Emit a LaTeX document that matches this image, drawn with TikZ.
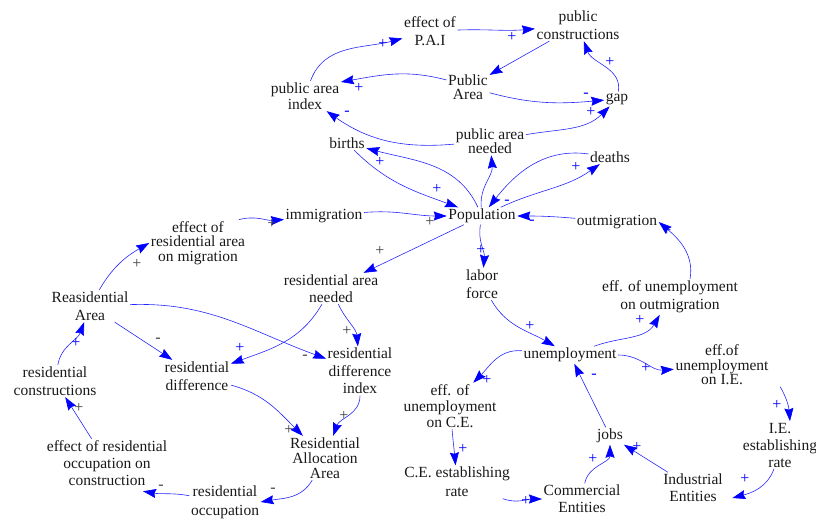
\documentclass[tikz,border=0pt]{standalone}
\usepackage{fontspec}
\setmainfont{Liberation Serif}
\usetikzlibrary{arrows.meta}
\begin{document}
\begin{tikzpicture}[x=1pt,y=1pt,
  vbl/.style={font=\fontsize{15.5}{17}\selectfont, align=center, inner sep=1.5pt, text=black!90},
  ls/.style={font=\fontsize{15.5}{#1}\selectfont},
  link/.style={draw=blue!85!white, line width=0.6pt, -{Stealth[length=13pt,width=9pt,inset=1.5pt,color=blue]}},
  sgnb/.style={font=\fontsize{16}{16}\selectfont, inner sep=0pt, text=blue},
  sgnk/.style={sgnb, text=black!75},
]
\useasboundingbox (0,0) rectangle (816,-521);

% ---- variables ----
\node[vbl, ls=18] (pai) at (430,-31) {effect of\\P.A.I};
\node[vbl, ls=18] (pc) at (578,-25) {public\\constructions};
\node[vbl, ls=14.5] (PA) at (468,-87) {Public\\Area};
\node[vbl, ls=16] (paidx) at (305,-96) {public area\\index};
\node[vbl] (gap) at (617,-99) {gap};
\node[vbl, ls=14.5] (pan) at (490,-141) {public area\\needed};
\node[vbl] (births) at (347,-143) {births};
\node[vbl] (deaths) at (610,-157) {deaths};
\node[vbl] (pop) at (482,-216) {Population};
\node[vbl] (immig) at (324,-216) {immigration};
\node[vbl] (outmig) at (617,-222) {outmigration};
\node[vbl, ls=14.5] (eram) at (198,-243) {effect of\\residential area\\on migration};
\node[vbl, ls=17] (ran) at (331,-288.5) {residential area\\needed};
\node[vbl, ls=18] (labor) at (482,-284) {labor\\force};
\node[vbl, ls=18] (RA) at (90,-306) {Reasidential\\Area};
\node[vbl, ls=18] (euo) at (670,-297) {eff. of unemployment\\on outmigration};
\node[vbl, ls=18] (rd) at (197,-376) {residential\\difference};
\node[vbl, ls=17.5] (rdi) at (360,-371) {residential\\difference\\index};
\node[vbl, ls=18] (rc) at (55,-381) {residential\\constructions};
\node[vbl] (unemp) at (570,-355) {unemployment};
\node[vbl, ls=14.5] (euie) at (722,-365) {eff.of\\unemployment\\on I.E.};
\node[vbl, ls=16] (euce) at (450,-406) {eff. of\\unemployment\\on C.E.};
\node[vbl] (jobs) at (610,-436) {jobs};
\node[vbl, ls=17] (iesr) at (780,-445) {I.E.\\establishing\\rate};
\node[vbl, ls=17] (eroc) at (107,-463) {effect of residential\\occupation on\\construction};
\node[vbl, ls=19] (cesr) at (457,-482) {C.E. establishing\\rate};
\node[vbl, ls=15] (RAA) at (325,-458) {Residential\\Allocation\\Area};
\node[vbl, ls=19] (ro) at (225,-502) {residential\\occupation};
\node[vbl, ls=17] (CE) at (582,-499) {Commercial\\Entities};
\node[vbl, ls=17] (IE) at (693,-488) {Industrial\\Entities};

% ---- causal links ----
\draw[link] (paidx) to[out=70,in=195] (pai);
\draw[link] (pai) to[out=2,in=185] (pc);
\draw[link] (pc) -- (PA);
\draw[link] ([yshift=7pt]PA.west) to[out=165,in=10] ([yshift=14pt]paidx.east);
\draw[link] (PA) to[out=-15,in=185] (gap);
\draw[link] (gap) to[out=80,in=-70] (pc);
\draw[link] (pan) to[out=185,in=-35] (paidx);
\draw[link] (pan) to[out=10,in=225] (gap);
\draw[link] (pop) to[out=115,in=-15] (births);
\draw[link] (births) to[out=-45,in=160] (pop);
\draw[link] (pop) to[out=95,in=-85] (pan);
\draw[link] (deaths) to[out=172,in=52] (pop);
\draw[link] (pop) to[out=25,in=215] (deaths);
\draw[link] (outmig) to[out=175,in=0] (pop);
\draw[link] (immig) to[out=5,in=180] (pop);
\draw[link] ([xshift=-8pt]eram.north east) to[out=15,in=185] (immig);
\draw[link] (pop) -- (ran);
\draw[link] (pop) to[out=-100,in=85] (labor);
\draw[link] ([xshift=20pt]euo.north) to[out=80,in=-40] (outmig.east);
\draw[link] (RA) to[out=60,in=210] (eram.west);
\draw[link] (RA) to[out=2,in=160] (rdi);
\draw[link] (RA) -- (rd);
\draw[link] (ran) to[out=-120,in=20] (rd);
\draw[link] (ran) to[out=-65,in=95] (rdi);
\draw[link] (rc) to[out=80,in=-110] (RA);
\draw[link] (eroc) -- (rc);
\draw[link] (rd) to[out=-15,in=135] (RAA);
\draw[link] (rdi) to[out=-90,in=70] (RAA);
\draw[link] (RAA) to[out=-120,in=10] (ro.east);
\draw[link] (ro) to[out=170,in=-10] ([xshift=36pt,yshift=-4pt]eroc.south);
\draw[link] (labor) to[out=-60,in=150] (unemp);
\draw[link] (unemp) to[out=20,in=-120] (euo);
\draw[link] (unemp) to[out=0,in=185] (euie);
\draw[link] (unemp) to[out=175,in=45] (euce);
\draw[link] (euce) to[out=-85,in=95] (cesr);
\draw[link] ([xshift=10pt]euie.south east) to[out=-60,in=95] ([xshift=10pt]iesr.north);
\draw[link] (cesr) to[out=-20,in=180] (CE);
\draw[link] ([xshift=-6pt]iesr.south) to[out=-110,in=15] ([xshift=8pt,yshift=-10pt]IE.east);
\draw[link] (CE) to[out=80,in=-90] (jobs);
\draw[link] (IE) -- (jobs);
\draw[link] (jobs) -- (unemp);

% ---- polarities ----
\node[sgnb] (s1) at (383,-44) {+};
\node[sgnb] (s2) at (512,-37) {+};
\node[sgnb] (s3) at (359,-88) {+};
\node[sgnb] (s4) at (586,-95) {-};
\node[sgnb] (s5) at (591,-112) {+};
\node[sgnb] (s6) at (610,-62) {+};
\node[sgnb] (s7) at (347,-113) {-};
\node[sgnb] (s8) at (380,-162) {+};
\node[sgnb] (s9) at (437,-189) {+};
\node[sgnb] (s10) at (507,-202) {-};
\node[sgnb] (s11) at (576,-167) {+};
\node[sgnb] (s12) at (532,-222) {-};
\node[sgnk] (s13) at (430,-222) {+};
\node[sgnk] (s14) at (272,-224) {+};
\node[sgnk] (s15) at (380,-251) {+};
\node[sgnb] (s16) at (481,-250) {+};
\node[sgnb] (s17) at (667,-231) {+};
\node[sgnk] (s18) at (137,-264) {+};
\node[sgnk] (s19) at (305,-357) {-};
\node[sgnk] (s20) at (158,-340) {-};
\node[sgnb] (s21) at (240,-348) {+};
\node[sgnk] (s22) at (347,-331) {+};
\node[sgnb] (s23) at (76,-343) {+};
\node[sgnk] (s24) at (79,-408) {+};
\node[sgnk] (s25) at (289,-430) {+};
\node[sgnk] (s26) at (344,-416) {+};
\node[sgnk] (s27) at (273,-490) {-};
\node[sgnk] (s28) at (161,-487) {-};
\node[sgnb] (s29) at (530,-326) {+};
\node[sgnb] (s30) at (640,-320) {+};
\node[sgnb] (s31) at (646,-368) {+};
\node[sgnb] (s32) at (487,-380) {+};
\node[sgnb] (s33) at (463,-449) {+};
\node[sgnb] (s34) at (777,-405) {+};
\node[sgnb] (s35) at (526,-501) {+};
\node[sgnb] (s36) at (745,-479) {+};
\node[sgnb] (s37) at (593,-459) {+};
\node[sgnb] (s38) at (637,-447) {+};
\node[sgnb] (s39) at (594,-376) {-};
\end{tikzpicture}
\end{document}
